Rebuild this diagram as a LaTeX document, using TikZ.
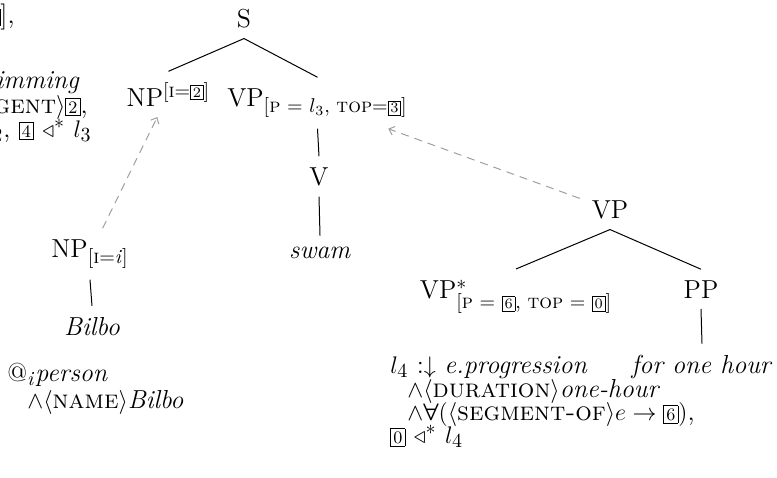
\documentclass[tikz,border=0pt]{standalone}
\usepackage{amsmath,amssymb}
\usepackage{fontspec}
\usetikzlibrary{arrows.meta}
\DeclareMathSizes{13}{13}{10}{7.5}
\newcommand\bx[1]{{\setlength\fboxsep{1.1pt}\setlength\fboxrule{0.4pt}\fbox{\fontsize{8.8}{8.8}\selectfont #1}}}
\newcommand\sbx[1]{{\setlength\fboxsep{0.9pt}\setlength\fboxrule{0.4pt}\fbox{\fontsize{7.2}{7.2}\selectfont #1}}}
\tikzset{
  tn/.style={inner xsep=6pt, inner ysep=5.5pt, outer sep=0pt, anchor=base, font=\fontsize{13}{15.6}\selectfont},
  fm/.style={inner sep=0pt, anchor=base west, font=\fontsize{13}{15.6}\selectfont},
  fme/.style={inner sep=0pt, anchor=base east, font=\fontsize{13}{15.6}\selectfont},
  branch/.style={line width=0.5pt},
  link/.style={draw=gray!75, line width=0.5pt, dash pattern=on 4pt off 3pt, -{Straight Barb[length=2.5pt,width=4.5pt]}}
}
\begin{document}
\begin{tikzpicture}[x=0.5pt,y=-0.5pt]
\useasboundingbox (0,0) rectangle (777,477);
% tree nodes
\node[tn] (S) at (244,27) {S};
\node[tn] (NPa) at (168.5,106) {NP\textsuperscript{[\textsc{i}=\sbx{2}]}};
\node[tn] (VPa) at (317.5,106) {VP\textsubscript{[\textsc{p} = $l_3$, \textsc{top}=\sbx{3}]}};
\node[tn] (V) at (319,185) {V};
\node[tn] (swam) at (320,258) {\textit{swam}};
\node[tn] (NPb) at (90,257) {NP\textsubscript{[\textsc{i}=\textit{i}]}};
\node[tn] (Bilbo) at (92,335) {\textit{Bilbo}};
\node[tn] (VPb) at (610,218) {VP};
\node[tn] (VPs) at (516,298) {VP${}^{*}_{\text{[\textsc{p} = \sbx{6}, \textsc{top} = \sbx{0}]}}$};
\node[tn] (PP) at (701,298) {PP};
\node[tn] (hour) at (702,373) {\textit{for one hour}};
% branches
\draw[branch] (S.south) -- (NPa.north);
\draw[branch] (S.south) -- (VPa.north);
\draw[branch] (VPa.south) -- (V.north);
\draw[branch] (V.south) -- (swam.north);
\draw[branch] (NPb.south) -- (Bilbo.north);
\draw[branch] (VPb.south) -- (VPs.north);
\draw[branch] (VPb.south) -- (PP.north);
\draw[branch] (PP.south) -- (hour.north);
% links
\draw[link] (NPb) -- (NPa);
\draw[link] (VPb) -- (VPa);
% formulas
\node[fme] (h1) at (15,23) {\textsc{top}=\bx{1}],};
\node[fme] (h2) at (80,88) {$l_3$ :$\downarrow$ \textit{e.swimming}};
\node[fme] (h3) at (88,113) {$\wedge\langle$\textsc{agent}$\rangle$\bx{2},};
\node[fme] (h4) at (92,137) {\bx{3} $\triangleleft^{*}$ $l_2$, \bx{4} $\triangleleft^{*}$ $l_3$};
\node[fm] (f1) at (7,381) {@\textsubscript{\textit{i}}\textit{person}};
\node[fm] (f2) at (27,408) {$\wedge\langle$\textsc{name}$\rangle$\textit{Bilbo}};
\node[fm] (g1) at (390,373) {$l_4$ :$\downarrow$ \textit{e.progression}};
\node[fm] (g2) at (407,397) {$\wedge\langle$\textsc{duration}$\rangle$\textit{one-hour}};
\node[fm] (g3) at (407,420) {$\wedge\boldsymbol{\forall}(\langle$\textsc{segment-of}$\rangle e\rightarrow{}$\bx{6}$)$,};
\node[fm] (g4) at (390,443) {\bx{0} $\triangleleft^{*}$ $l_4$};
\end{tikzpicture}
\end{document}
